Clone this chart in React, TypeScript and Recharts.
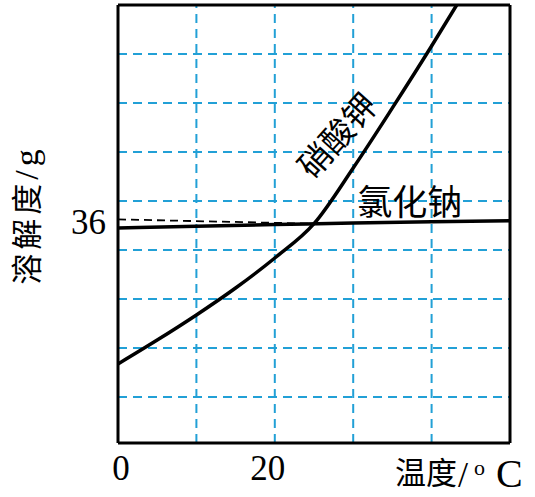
import React from "react";
import { LineChart, Line, XAxis, YAxis, ReferenceLine, ReferenceDot, Label } from "recharts";

// temperature (°C) vs solubility (g)
const kno3Temp = [0, 5, 10, 15, 20, 25, 30, 35, 40, 43.2];
const kno3Sol = [13.4, 17.3, 21.4, 25.8, 30.7, 36.3, 45.4, 55.2, 65.3, 72];
const naclTemp = [0, 10, 20, 30, 40, 50];
const naclSol = [35.6, 35.9, 36.15, 36.4, 36.6, 36.8];
const guideTemp = [0, 25];
const guideSol = [37.0, 36.3];

const xTicks = [0, 20];
const yTicks = [36];
const gridX = [10, 20, 30, 40];
const gridY = [8, 16, 24, 32, 40, 48, 56, 64];

const kno3 = kno3Temp.map((t, i) => ({ t, v: kno3Sol[i] }));
const nacl = naclTemp.map((t, i) => ({ t, v: naclSol[i] }));
const guide = guideTemp.map((t, i) => ({ t, v: guideSol[i] }));

const SERIF = "'Liberation Serif', 'Times New Roman', serif";
const CJK = "'Noto Sans CJK SC', sans-serif";
const GRID = "#22a0d6";

const XTick = (props: any) => {
  const { x, payload } = props;
  const shift = payload.value === 0 ? 3 : -7;
  return (
    <text x={x + shift} y={480} textAnchor="middle" fontFamily={SERIF} fontSize={35} fill="#000">
      {payload.value}
    </text>
  );
};

const YTick = (props: any) => {
  const { y, payload } = props;
  return (
    <text x={106} y={y + 8} textAnchor="end" fontFamily={SERIF} fontSize={35} fill="#000">
      {payload.value}
    </text>
  );
};

export default function App() {
  return (
    <div style={{ position: "absolute", left: 0, top: 0, background: "#fff" }}>
      <LineChart width={535} height={497} margin={{ top: 5, right: 25, left: 0, bottom: 0 }}>
        <XAxis
          type="number"
          dataKey="t"
          domain={[0, 50]}
          allowDataOverflow
          ticks={xTicks}
          tick={<XTick />}
          tickLine={false}
          axisLine={{ stroke: "#000", strokeWidth: 3 }}
          height={54}
        >
          <Label
            content={() => (
              <g fill="#000">
                <text x={395} y={484} fontFamily={CJK} fontSize={31}>温度</text>
                <text x={458} y={487} fontFamily={SERIF} fontSize={36}>/</text>
                <text x={474} y={475} fontFamily={SERIF} fontSize={22}>o</text>
                <text x={496} y={487} fontFamily={SERIF} fontSize={40}>C</text>
              </g>
            )}
          />
        </XAxis>
        <YAxis
          type="number"
          dataKey="v"
          domain={[0.5, 72]}
          allowDataOverflow
          ticks={yTicks}
          tick={<YTick />}
          tickLine={false}
          axisLine={{ stroke: "#000", strokeWidth: 3 }}
          width={118}
        >
          <Label
            content={() => (
              <text
                x={38}
                y={215}
                transform="rotate(-90 38 215)"
                textAnchor="middle"
                fill="#000"
                letterSpacing={4}
              >
                <tspan fontFamily={CJK} fontSize={31}>溶解度</tspan>
                <tspan fontFamily={SERIF} fontSize={34}>/g</tspan>
              </text>
            )}
          />
        </YAxis>

        {gridX.map((x) => (
          <ReferenceLine key={"gx" + x} x={x} stroke={GRID} strokeWidth={2} strokeDasharray="9 6" />
        ))}
        {gridY.map((y) => (
          <ReferenceLine key={"gy" + y} y={y} stroke={GRID} strokeWidth={2} strokeDasharray="9 6" />
        ))}
        <ReferenceLine y={72} stroke="#000" strokeWidth={3} />
        <ReferenceLine x={50} stroke="#000" strokeWidth={3} />

        <Line
          data={guide}
          dataKey="v"
          type="linear"
          stroke="#000"
          strokeWidth={1.8}
          strokeDasharray="8 5"
          dot={false}
          activeDot={false}
          isAnimationActive={false}
        />
        <Line
          data={nacl}
          dataKey="v"
          type="monotone"
          stroke="#000"
          strokeWidth={3.5}
          dot={false}
          activeDot={false}
          isAnimationActive={false}
        />
        <Line
          data={kno3}
          dataKey="v"
          type="monotone"
          stroke="#000"
          strokeWidth={3.5}
          dot={false}
          activeDot={false}
          isAnimationActive={false}
        />

        <ReferenceDot
          x={37.2}
          y={40.2}
          r={0}
          shape={(p: any) => (
            <text x={p.cx} y={p.cy} textAnchor="middle" dominantBaseline="central" fontFamily={CJK} fontSize={35} fill="#000">
              氯化钠
            </text>
          )}
        />
        <ReferenceDot
          x={27.8}
          y={50.9}
          r={0}
          shape={(p: any) => (
            <text
              x={p.cx}
              y={p.cy}
              transform={`rotate(-48 ${p.cx} ${p.cy})`}
              textAnchor="middle"
              dominantBaseline="central"
              fontFamily={CJK}
              fontSize={33}
              fill="#000"
            >
              硝酸钾
            </text>
          )}
        />
      </LineChart>
    </div>
  );
}
